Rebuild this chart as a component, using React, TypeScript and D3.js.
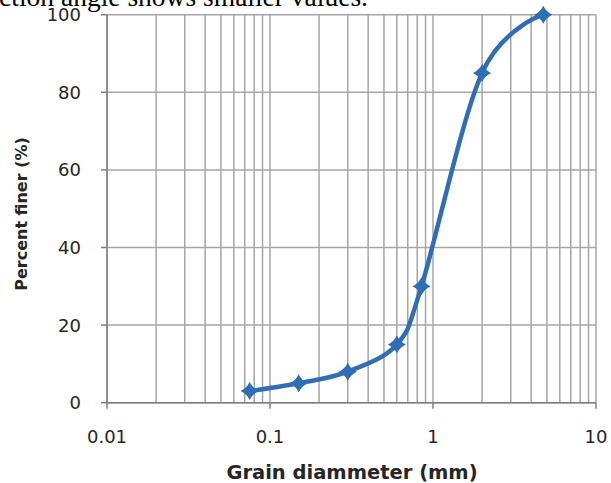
import React from "react";
import * as d3 from "d3";

// Grain-size distribution (sieve analysis)
const grainSizes = [0.075, 0.15, 0.3, 0.6, 0.85, 2, 4.75];
const percentFiner = [3, 5, 8, 15, 30, 85, 100];
const xTickValues = [0.01, 0.1, 1, 10];
const xTickLabels = ["0.01", "0.1", "1", "10"];
const yTickValues = [0, 20, 40, 60, 80, 100];

const W = 611;
const H = 483;
const left = 107;
const right = 596;
const top = 14.7;
const bottom = 402.7;

export default function App() {
  const x = d3.scaleLog().domain([0.01, 10]).range([left, right]);
  const y = d3.scaleLinear().domain([0, 100]).range([bottom, top]);

  // minor gridlines at 1..9 of every decade
  const gridX: number[] = [];
  for (let e = -2; e < 1; e++) {
    for (let m = 1; m <= 9; m++) gridX.push(m * Math.pow(10, e));
  }
  gridX.push(10);

  const pts = grainSizes.map((g, i) => [x(g), y(percentFiner[i])] as [number, number]);
  const line = d3.line().curve(d3.curveCatmullRom.alpha(0))(pts) || "";
  // four-pointed marker with slightly pinched sides
  const marker = (cx: number, cy: number, r: number) => {
    const k = r * 0.32;
    return `M${cx},${cy - r}Q${cx + k},${cy - k} ${cx + r},${cy}Q${cx + k},${cy + k} ${cx},${cy + r}Q${cx - k},${cy + k} ${cx - r},${cy}Q${cx - k},${cy - k} ${cx},${cy - r}Z`;
  };

  const font = "'DejaVu Sans', Verdana, sans-serif";
  const blue = "#2F6EB5";

  return (
    <svg width={W} height={H} style={{ position: "absolute", left: 0, top: 0, background: "#fff" }}>
      <text x={368} y={6} textAnchor="end" fontFamily="'Liberation Serif', 'Times New Roman', serif" fontSize={27.5} fill="#000">
        friction angle shows smaller values.
      </text>
      {gridX.map((g, i) => (
        <line key={"gx" + i} x1={x(g)} x2={x(g)} y1={top} y2={bottom} stroke="#a6a6a6" strokeWidth={1.5} />
      ))}
      {yTickValues.map((v) => (
        <line key={"gy" + v} x1={left} x2={right} y1={y(v)} y2={y(v)} stroke="#a6a6a6" strokeWidth={1.5} />
      ))}
      {/* axes */}
      <line x1={left} x2={left} y1={top} y2={bottom} stroke="#808080" strokeWidth={1.5} />
      <line x1={left} x2={right} y1={bottom} y2={bottom} stroke="#808080" strokeWidth={1.5} />
      {yTickValues.map((v) => (
        <g key={"yt" + v}>
          <line x1={left - 6} x2={left} y1={y(v)} y2={y(v)} stroke="#808080" strokeWidth={1.5} />
          <text x={81} y={y(v)} dy="0.36em" textAnchor="end" fontFamily={font} fontSize={18} fill="#262626">
            {v}
          </text>
        </g>
      ))}
      {xTickValues.map((v, i) => (
        <g key={"xt" + v}>
          <line x1={x(v)} x2={x(v)} y1={bottom} y2={bottom + 6} stroke="#808080" strokeWidth={1.5} />
          <text x={x(v)} y={443} textAnchor="middle" fontFamily={font} fontSize={18} fill="#262626">
            {xTickLabels[i]}
          </text>
        </g>
      ))}
      <text x={352} y={479} textAnchor="middle" fontFamily={font} fontWeight="bold" fontSize={19.5} fill="#262626">
        Grain diammeter (mm)
      </text>
      <text
        transform={`translate(27,214) rotate(-90)`}
        textAnchor="middle"
        fontFamily={font}
        fontWeight="bold"
        fontSize={16}
        fill="#262626"
      >
        Percent finer (%)
      </text>
      <path d={line} fill="none" stroke={blue} strokeWidth={4.5} strokeLinejoin="round" />
      {pts.map(([cx, cy], i) => (
        <path key={"m" + i} d={marker(cx, cy, 9)} fill={blue} />
      ))}
    </svg>
  );
}
